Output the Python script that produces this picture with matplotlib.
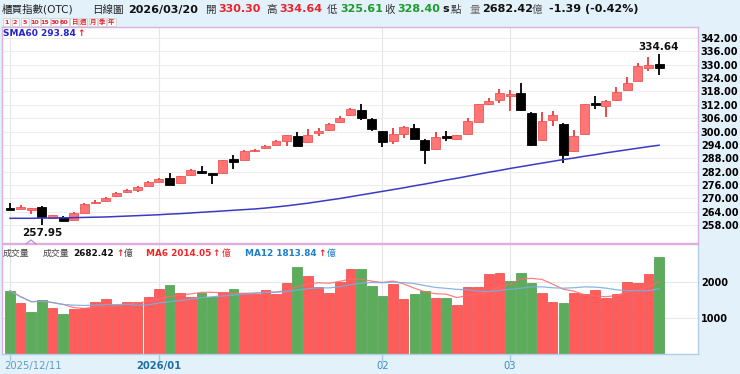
import matplotlib
matplotlib.use('Agg')
import matplotlib.pyplot as plt
import numpy as np
import pandas as pd
from matplotlib.lines import Line2D
from matplotlib.patches import Rectangle

plt.rcParams['font.family'] = ['DejaVu Sans', 'Noto Sans CJK TC']

# ---------------- data ----------------
opens = [265.2, 265.1, 265.2, 266.0, 261.3, 261.7, 260.3, 263.6, 267.8, 268.8,
         270.8, 272.6, 273.5, 275.6, 277.3, 279.1, 276.9, 280.3, 282.2, 281.2,
         281.3, 287.7, 287.2, 291.3, 292.7, 294.1, 295.6, 297.9, 295.2, 299.5,
         300.6, 304.2, 307.2, 309.7, 305.7, 300.1, 295.6, 299.0, 301.7, 296.4,
         292.3, 297.9, 296.7, 299.0, 304.4, 312.2, 314.0, 316.3, 317.2, 308.4,
         296.4, 305.0, 303.5, 291.1, 299.0, 312.6, 311.4, 314.0, 318.7, 322.7,
         328.6, 330.30]
highs = [267.8, 267.0, 265.5, 266.6, 262.6, 261.9, 263.8, 267.9, 269.4, 270.6,
         272.6, 274.2, 275.3, 277.6, 279.2, 281.3, 280.1, 283.3, 284.6, 281.3,
         287.3, 289.6, 291.6, 292.0, 294.0, 296.2, 298.5, 299.7, 301.2, 301.7,
         303.8, 306.9, 310.7, 312.2, 305.9, 300.3, 301.7, 302.3, 303.5, 296.6,
         299.9, 300.1, 298.6, 306.2, 312.5, 315.2, 319.0, 318.5, 321.8, 308.6,
         308.9, 309.2, 303.7, 300.6, 312.5, 316.0, 314.2, 320.0, 324.3, 330.6,
         333.3, 334.64]
lows = [264.9, 265.0, 263.0, 257.95, 260.9, 259.7, 260.1, 263.4, 267.6, 268.6,
        270.6, 272.4, 272.8, 275.4, 277.1, 276.0, 276.7, 280.1, 281.1, 276.5,
        281.1, 283.1, 287.0, 290.9, 292.3, 293.9, 293.7, 293.5, 295.0, 297.9,
        300.4, 304.0, 307.0, 305.1, 300.1, 293.1, 294.6, 297.2, 296.6, 285.5,
        292.1, 295.6, 296.5, 298.8, 304.2, 312.0, 313.0, 309.2, 309.3, 293.4,
        296.2, 302.7, 285.9, 290.9, 298.8, 310.3, 306.6, 313.8, 318.5, 322.5,
        327.2, 325.61]
closes = [265.0, 265.96, 265.4, 261.7, 262.3, 259.9, 263.4, 267.6, 268.5, 270.3,
          272.3, 273.8, 275.0, 277.3, 278.8, 276.1, 279.8, 282.5, 281.3, 280.9,
          287.0, 286.1, 291.3, 291.6, 293.6, 295.9, 298.3, 293.7, 298.3, 299.9,
          303.5, 305.9, 310.0, 306.2, 301.2, 295.2, 299.0, 302.0, 296.8, 291.6,
          297.6, 297.4, 298.3, 304.6, 312.2, 313.7, 317.5, 316.7, 309.5, 294.1,
          304.6, 307.2, 289.6, 297.9, 312.2, 312.4, 313.7, 317.9, 321.7, 329.3,
          329.79, 328.40]
sma60 = [261.0, 261.0, 261.0, 261.1, 261.1, 261.2, 261.3, 261.4, 261.5, 261.6,
         261.8, 262.0, 262.2, 262.4, 262.6, 262.9, 263.1, 263.4, 263.7, 264.0,
         264.3, 264.6, 264.9, 265.2, 265.6, 266.1, 266.6, 267.2, 267.8, 268.5,
         269.2, 269.9, 270.7, 271.5, 272.3, 273.1, 273.9, 274.7, 275.6, 276.4,
         277.3, 278.2, 279.0, 279.9, 280.8, 281.7, 282.5, 283.4, 284.2, 285.0,
         285.8, 286.6, 287.4, 288.1, 288.9, 289.6, 290.4, 291.1, 291.8, 292.5,
         293.2, 293.84]
volume = [1758, 1425, 1175, 1500, 1286, 1111, 1241, 1286, 1435, 1519,
          1361, 1454, 1435, 1593, 1796, 1907, 1685, 1593, 1704, 1593,
          1713, 1805, 1694, 1657, 1778, 1676, 1963, 2426, 2176, 1852,
          1694, 1991, 2370, 2352, 1889, 1611, 1935, 1519, 1657, 1750,
          1565, 1546, 1361, 1870, 1870, 2222, 2259, 2037, 2241, 1981,
          1685, 1435, 1417, 1704, 1657, 1778, 1546, 1657, 2000, 1981,
          2222, 2682.42]
vol_up = [0, 1, 0, 0, 1, 0, 1, 1, 1, 1, 1, 1, 1, 1, 1, 0, 1, 1, 0, 0,
          1, 0, 1, 1, 1, 1, 1, 0, 1, 1, 1, 1, 1, 0, 0, 0, 1, 1, 0, 0,
          1, 0, 1, 1, 1, 1, 1, 0, 0, 0, 1, 1, 0, 1, 1, 1, 1, 1, 1, 1,
          1, 0]
price_ticks = [258, 264, 270, 276, 282, 288, 294, 300, 306, 312, 318, 324, 330, 336, 342]
vol_ticks = [1000, 2000]
x_tick_idx = [0, 14, 35, 47]
x_tick_labels = ['2025/12/11', '2026/01', '02', '03']

# ---------------- figure ----------------
W, H = 740, 374
BG = '#e3f1fb'
fig = plt.figure(figsize=(W / 100, H / 100), dpi=100, facecolor=BG)


def fx(x):
    return x / W


def fy(y):
    return 1 - y / H


ax = fig.add_axes([fx(2), fy(243), fx(696), 216 / H])
axv = fig.add_axes([fx(2), fy(354), fx(696), 110 / H])

n = len(closes)
idx = np.arange(n)
XL = (-0.75, 64.66)

# ---- price panel ----
ax.set_facecolor('white')
ax.set_xlim(*XL)
ax.set_ylim(249.9, 346.97)
ax.set_yticks(price_ticks)
ax.set_yticklabels([f'{t:.2f}' for t in price_ticks], fontsize=7, fontweight='bold')
ax.yaxis.tick_right()
ax.tick_params(axis='y', length=0, pad=2)
ax.set_xticks(x_tick_idx)
ax.tick_params(axis='x', length=0, labelbottom=False)
ax.grid(axis='y', color='#ededed', lw=0.8, zorder=0)
ax.grid(axis='x', color='#e6e6e6', lw=0.8, zorder=0)
for s in ax.spines.values():
    s.set_color('#dcb0dc')
    s.set_linewidth(1.0)

up_fill, up_edge, up_wick = '#ff7474', '#ee5555', '#e83a3a'
for i in range(n):
    o, h, l, c = opens[i], highs[i], lows[i], closes[i]
    up = c > o
    wick = up_wick if up else 'black'
    ax.vlines(i, l, h, color=wick, lw=1.3, zorder=2)
    bottom = min(o, c)
    height = max(abs(c - o), 0.75)
    if abs(c - o) < 0.75:
        bottom = (o + c) / 2 - 0.375
    ax.bar(i, height, bottom=bottom, width=0.84,
           color=up_fill if up else 'black',
           edgecolor=up_edge if up else 'black', lw=0.6, zorder=3)

ax.plot(idx, sma60, color='#3a3ac4', lw=1.1, zorder=4)

imin = int(np.argmin(lows))
imax = int(np.argmax(highs))
ax.annotate(f'{lows[imin]:.2f}', (imin, lows[imin]), xytext=(0, -2),
            textcoords='offset points', ha='center', va='top',
            fontsize=7.5, fontweight='bold', color='#111111', zorder=6)
ax.annotate(f'{highs[imax]:.2f}', (imax, highs[imax]), xytext=(0, 2),
            textcoords='offset points', ha='center', va='bottom',
            fontsize=7.5, fontweight='bold', color='#111111', zorder=6)

fig.text(fx(3), fy(33.5), 'SMA60 293.84', ha='left', va='center',
         fontsize=6.5, fontweight='bold', color='#2323d0', zorder=6)
fig.text(fx(77.5), fy(33.5), '↑', ha='left', va='center', fontsize=6.5,
         fontweight='bold', color='#e8242b')

# ---- volume panel ----
axv.set_facecolor('white')
axv.set_xlim(*XL)
axv.set_ylim(0, 3055)
axv.set_yticks(vol_ticks)
axv.set_yticklabels([str(t) for t in vol_ticks], fontsize=7, fontweight='bold')
axv.yaxis.tick_right()
axv.tick_params(axis='y', length=0, pad=2)
axv.grid(axis='y', color='#e8e8e8', lw=0.8, zorder=0)
axv.grid(axis='x', color='#e4e4e4', lw=0.8, zorder=0)
axv.set_xticks(x_tick_idx)
axv.set_xticklabels([''] * len(x_tick_idx))
axv.tick_params(axis='x', length=5, color='#a9c9e2', width=1)
for k, s in axv.spines.items():
    s.set_color('#dcb0dc' if k in ('left', 'top') else '#b0cfe6')
    s.set_linewidth(1.0)

vcol = ['#ff5c5c' if u else '#5cac5c' for u in vol_up]
vedge = ['#e84646' if u else '#4a9a4a' for u in vol_up]
axv.bar(idx, volume, width=0.9, color=vcol, edgecolor=vedge, lw=0.5, zorder=2)

vs = pd.Series(volume)
ma6 = vs.rolling(6, min_periods=1).mean()
ma12 = vs.rolling(12, min_periods=1).mean()
axv.plot(idx, ma6, color='#ff6a6a', lw=0.9, alpha=0.85, zorder=3)
axv.plot(idx, ma12, color='#78aee0', lw=0.9, alpha=0.9, zorder=3)

# x labels
lbl_styles = [
    dict(color='#5f9dc8', fontweight='normal', ha='left', dx=-6),
    dict(color='#1f6fa8', fontweight='bold', ha='center', dx=0),
    dict(color='#3d8cc2', fontweight='normal', ha='center', dx=0),
    dict(color='#3d8cc2', fontweight='normal', ha='center', dx=0),
]
for ti, lab, st in zip(x_tick_idx, x_tick_labels, lbl_styles):
    axv.annotate(lab, (ti, 0), xycoords=('data', 'axes fraction'),
                 xytext=(st['dx'] * 0.72, -8.5), textcoords='offset points',
                 ha=st['ha'], va='center', fontsize=7.2,
                 fontweight=st['fontweight'], color=st['color'])

# volume header
VY = fy(253)
vol_hdr = [
    (3, '成交量', '#444444', 'normal'),
    (43, '成交量', '#444444', 'normal'),
    (73, '2682.42', '#111111', 'bold'),
    (116.5, '↑', '#e8242b', 'bold'),
    (123.5, '億', '#444444', 'normal'),
    (146, 'MA6 2014.05', '#f02525', 'bold'),
    (212.5, '↑', '#e8242b', 'bold'),
    (222, '億', '#f02525', 'normal'),
    (245, 'MA12 1813.84', '#1f7fc8', 'bold'),
    (318, '↑', '#e8242b', 'bold'),
    (327, '億', '#1f7fc8', 'normal'),
]
for x, t, c, w in vol_hdr:
    fig.text(fx(x), VY, t, ha='left', va='center', fontsize=6.4, color=c, fontweight=w)

# small marker on the boundary
fig.add_artist(Line2D([fx(26), fx(31), fx(36)], [fy(244), fy(240), fy(244)],
                      color='#b48fd8', lw=0.9))

# ---- header ----
TY = fy(9.5)
hdr = [
    (2, '櫃買指數(OTC)', '#222222', 'normal', 7.6),
    (92, '日線圖', '#222222', 'normal', 7.6),
    (128, '2026/03/20', '#111111', 'bold', 8),
    (205, '開', '#333333', 'normal', 7.6),
    (218, '330.30', '#e8242b', 'bold', 8),
    (266, '高', '#333333', 'normal', 7.6),
    (279, '334.64', '#e8242b', 'bold', 8),
    (327, '低', '#333333', 'normal', 7.6),
    (340, '325.61', '#1e9a2a', 'bold', 8),
    (384, '收', '#333333', 'normal', 7.6),
    (397, '328.40', '#1e9a2a', 'bold', 8),
    (442, 's', '#111111', 'bold', 8),
    (451, '點', '#333333', 'normal', 7.6),
    (469, '量', '#777777', 'normal', 7.6),
    (482, '2682.42', '#111111', 'bold', 8),
    (532, '億', '#555555', 'normal', 7.6),
    (549, '-1.39 (-0.42%)', '#111111', 'bold', 8),
]
for x, t, c, w, fs in hdr:
    fig.text(fx(x), TY, t, ha='left', va='center', fontsize=fs, color=c, fontweight=w)

btns = ['1', '2', '5', '10', '15', '30', '60', '日', '週', '月', '季', '年']
bx = [3, 11.5, 20.5, 30.5, 40.5, 50.5, 60.5, 70, 79, 89, 98, 107]
bw = [7, 7, 8, 9, 9, 9, 8, 8, 8, 8, 8, 8.5]
for b, x, w in zip(btns, bx, bw):
    fig.add_artist(Rectangle((fx(x), fy(26)), fx(w), 8 / H, facecolor='#fbfbfb',
                             edgecolor='#cfcfcf', lw=0.6, transform=fig.transFigure))
    fig.text(fx(x + w / 2), fy(22), b, ha='center', va='center', fontsize=4.6,
             color='#e8242b', fontweight='bold')

fig.savefig('out.png', dpi=100, facecolor=BG)
